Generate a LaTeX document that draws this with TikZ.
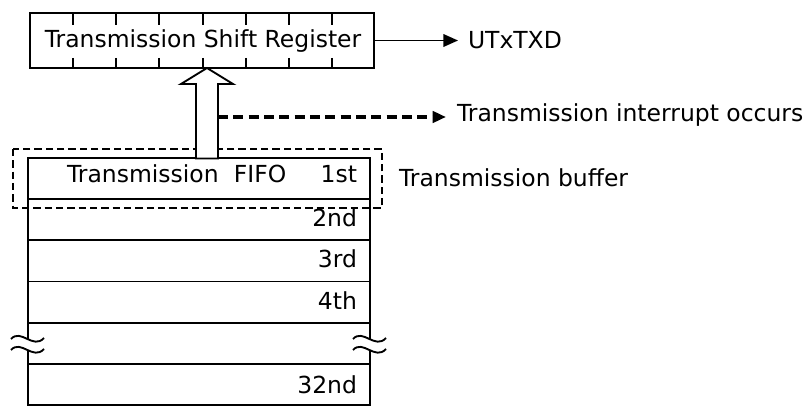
\documentclass[tikz,border=0pt]{standalone}
\usepackage{fontspec}
\setmainfont{DejaVu Sans}
\usetikzlibrary{arrows.meta,calc}
\begin{document}
\begin{tikzpicture}[x=0.75pt,y=-0.75pt,
  txt/.style={font=\fontsize{17.6}{20}\selectfont, inner sep=0pt, outer sep=0pt},
  cell/.style={draw, line width=1.4pt, minimum width=256.5pt, minimum height=30.9pt, inner sep=0pt},
  regbox/.style={draw, line width=1.4pt, minimum width=258pt, minimum height=41.25pt, inner sep=0pt},
  tick/.style={line width=1.2pt},
  solidarrow/.style={line width=1.2pt, -{Triangle[length=11pt,width=9.5pt]}},
  dasharrow/.style={line width=2.6pt, dash pattern=on 7.5pt off 4pt, -{Triangle[length=10pt,width=8.5pt]}},
  bufbox/.style={line width=1.6pt, dash pattern=on 5.5pt off 3pt},
  hollow/.style={draw, fill=white, line width=1.4pt},
  wavefill/.style={fill=white},
  wave/.style={line width=1.4pt}]
\useasboundingbox (0,0) rectangle (808,406);

% FIFO rows
\node[cell] (r1) at (199,178.6) {};
\node[cell] (r2) at (199,219.75) {};
\node[cell] (r3) at (199,260.9) {};
\node[cell] (r4) at (199,302.1) {};
\node[cell] (r5) at (199,343.25) {};
\node[cell] (r6) at (199,384.4) {};

% buffer dashed box
\draw[bufbox] (13,149) rectangle (382,208);

% register
\node[regbox] (reg) at (202,40.5) {};
\foreach \x in {73,116,159,203,246,289,332}{
  \draw[tick] (\x,13) -- (\x,25);
  \draw[tick] (\x,58) -- (\x,68);
}
\node[txt, anchor=base] (regtxt) at (203,48) {Transmission Shift Register};

% hollow arrow from FIFO to register
\coordinate (tip) at (207,68);
\coordinate (sh) at (207,158.5);
\draw[hollow] ($(sh)+(-11,0)$) -- ($(tip)+(-11,16)$) -- ($(tip)+(-26,16)$) -- (tip)
  -- ($(tip)+(26,16)$) -- ($(tip)+(11,16)$) -- ($(sh)+(11,0)$) -- cycle;
\coordinate (dstart) at (218,117);

% output
\node[txt, anchor=base west] (utx) at (468,49) {UTxTXD};
\draw[solidarrow] (reg.east |- 0,40.5) -- ($(utx.west |- 0,40.5)+(-10,0)$);

% interrupt
\node[txt, anchor=base west] (intr) at (457,122) {Transmission interrupt occurs};
\draw[dasharrow] (dstart) -- ($(intr.west |- dstart)+(-11,0)$);

% buffer label
\node[txt, anchor=base west] (buf) at (399,187) {Transmission buffer};

% row labels
\node[txt, anchor=base west] (fifo) at (67,183) {Transmission\hspace{11.5pt}FIFO};
\node[txt, anchor=base east] (l1) at (357,183) {1st};
\node[txt, anchor=base east] (l2) at (357,227) {2nd};
\node[txt, anchor=base east] (l3) at (357,268) {3rd};
\node[txt, anchor=base east] (l4) at (357,310) {4th};
\node[txt, anchor=base east] (l6) at (357,393) {32nd};

% break marks
\foreach \xa in {11,353}{
  \fill[wavefill] (\xa,339) .. controls (\xa+10,328) and (\xa+22,350) .. (\xa+33,338)
    -- (\xa+33,349) .. controls (\xa+22,361) and (\xa+10,339) .. (\xa,350) -- cycle;
  \draw[wave] (\xa,339) .. controls (\xa+10,328) and (\xa+22,350) .. (\xa+33,338);
  \draw[wave] (\xa,350) .. controls (\xa+10,339) and (\xa+22,361) .. (\xa+33,349);
}
\end{tikzpicture}
\end{document}
